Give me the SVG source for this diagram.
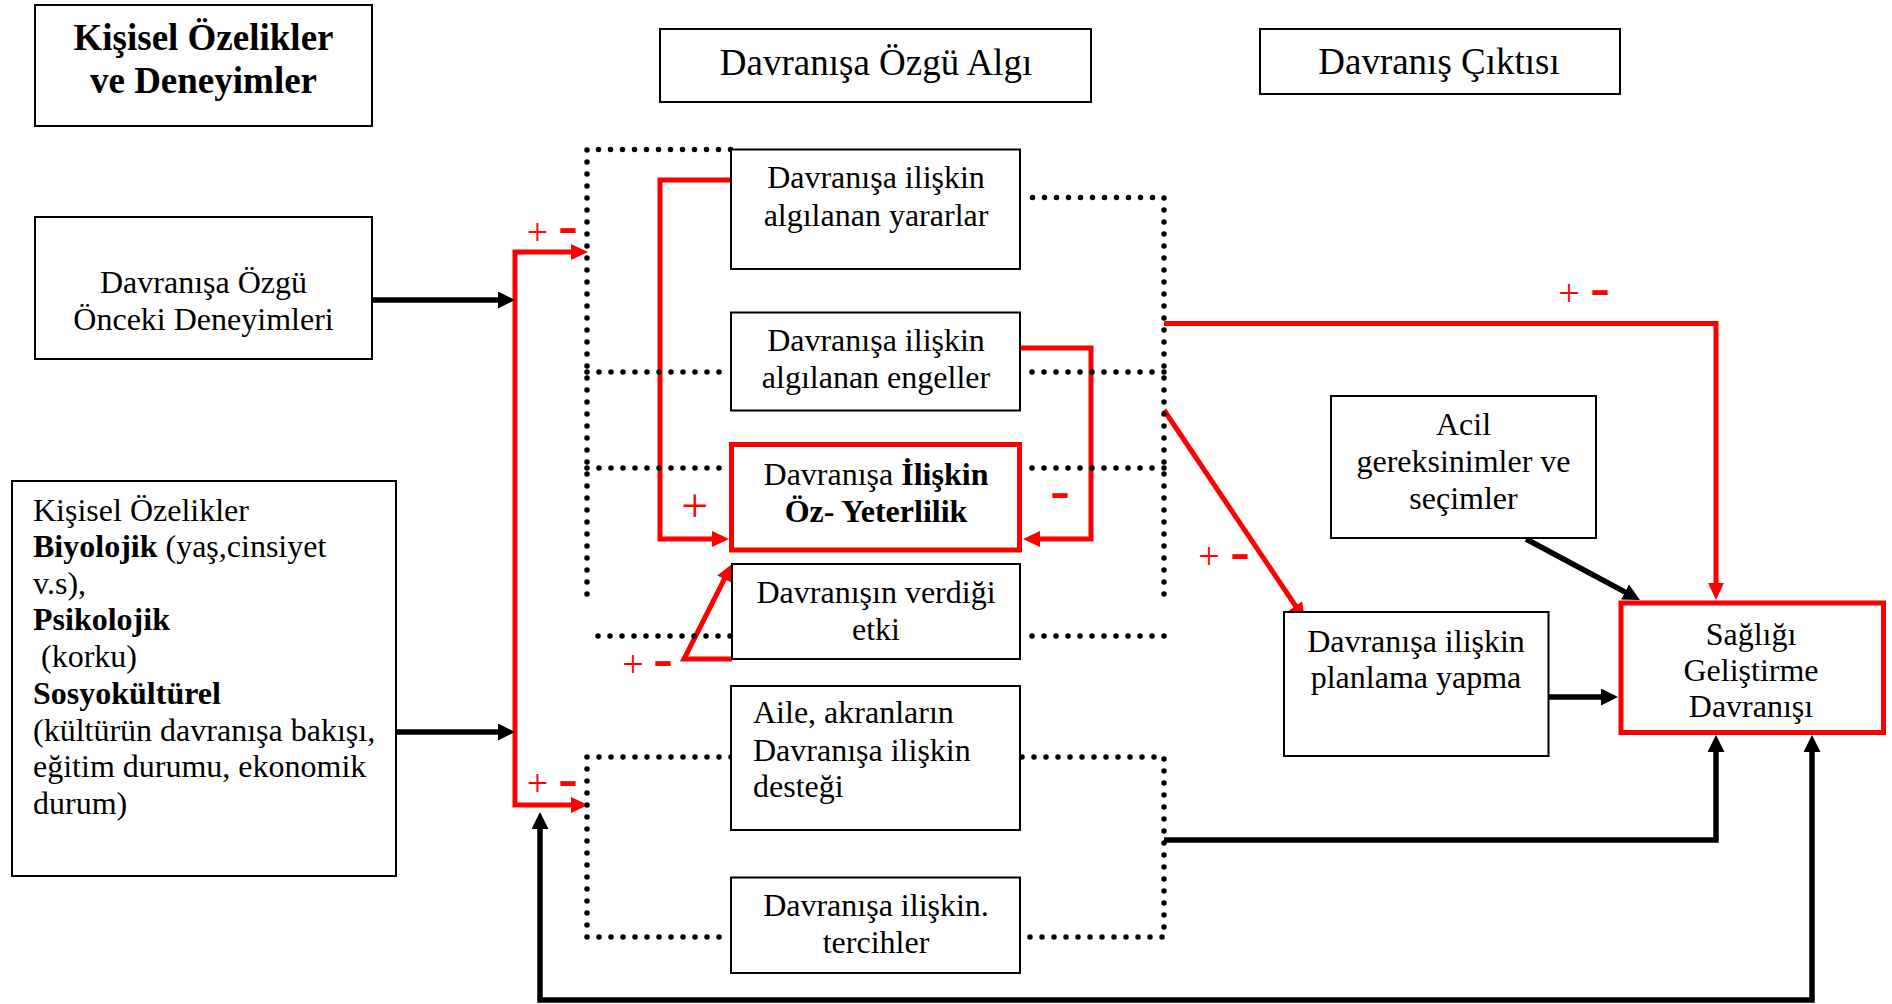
<svg xmlns="http://www.w3.org/2000/svg" width="1892" height="1004" viewBox="0 0 1892 1004">
<style>
  .box{fill:#fff;stroke:#000;stroke-width:2}
  .hot{fill:#fff;stroke:#f00;stroke-width:5}
  .t{font-family:"Liberation Serif","Times New Roman",serif;font-size:32px;fill:#000}
  .c{text-anchor:middle}
  .b{font-weight:bold}
  .head{font-size:37px}
  .dot{fill:none;stroke:#000;stroke-width:5.5;stroke-dasharray:0 12;stroke-linecap:round}
  .red{fill:none;stroke:#f00;stroke-width:5;stroke-linejoin:miter}
  .blk{fill:none;stroke:#000;stroke-width:5.5;stroke-linejoin:miter}
  .plus{font-family:"Liberation Serif",serif;font-size:38px;fill:#f00;text-anchor:middle}
  .minus{font-family:"Liberation Sans",sans-serif;font-weight:bold;font-size:40px;fill:#f00;text-anchor:middle}
</style>
<defs>
  <marker id="ar" markerUnits="userSpaceOnUse" viewBox="0 0 17 16" markerWidth="17" markerHeight="16" refX="5" refY="8" orient="auto-start-reverse">
    <path d="M0,0 L17,8 L0,16 z" fill="#f00"/>
  </marker>
  <marker id="ab" markerUnits="userSpaceOnUse" viewBox="0 0 17 17" markerWidth="17" markerHeight="17" refX="5" refY="8.5" orient="auto-start-reverse">
    <path d="M0,0 L17,8.5 L0,17 z" fill="#000"/>
  </marker>
</defs>

<!-- connectors -->
<g id="connectors">
  <!-- red distribution bus on the left -->
  <path class="red" d="M 576 805 H 515 V 252 H 576" marker-start="url(#ar)" marker-end="url(#ar)"/>
  <!-- benefits / barriers into self-efficacy -->
  <path class="red" d="M 731 180 H 660 V 539 H 717" marker-end="url(#ar)"/>
  <path class="red" d="M 1020 348 H 1091 V 539 H 1035" marker-end="url(#ar)"/>
  <!-- activity-related affect into self-efficacy -->
  <path class="red" d="M 732 659 H 684 L 726.6 574.7" marker-end="url(#ar)"/>
  <!-- perception group to outcome -->
  <path class="red" d="M 1164 323.5 H 1716 V 588" marker-end="url(#ar)"/>
  <path class="red" d="M 1164 410 L 1298.3 610" marker-end="url(#ar)"/>

  <!-- black inputs and outputs -->
  <path class="blk" d="M 372 300 H 503" marker-end="url(#ab)"/>
  <path class="blk" d="M 396 732 H 503" marker-end="url(#ab)"/>
  <path class="blk" d="M 1812 747 V 1000 H 540 V 824" marker-start="url(#ab)" marker-end="url(#ab)"/>
  <path class="blk" d="M 1164 840 H 1716 V 747" marker-end="url(#ab)"/>
  <path class="blk" d="M 1548 697 H 1606" marker-end="url(#ab)"/>
  <path class="blk" d="M 1526 539 L 1629.4 594.3" marker-end="url(#ab)"/>

  <!-- sign labels -->
  <text class="plus" x="537.5" y="244.5">+</text>
  <text class="minus" transform="translate(568 230) scale(1.5 1)" y="10.5">-</text>
  <text class="plus" x="537.5" y="795.5">+</text>
  <text class="minus" transform="translate(568 783) scale(1.5 1)" y="10.5">-</text>
  <text class="plus" x="633" y="676.5">+</text>
  <text class="minus" transform="translate(663 663) scale(1.5 1)" y="10.5">-</text>
  <text class="plus" x="694.7" y="522" style="font-size:48px">+</text>
  <text class="minus" transform="translate(1060 495) scale(1.5 1)" y="10.5">-</text>
  <text class="plus" x="1209" y="568.5">+</text>
  <text class="minus" transform="translate(1240 556) scale(1.5 1)" y="10.5">-</text>
  <text class="plus" x="1569" y="305.5">+</text>
  <text class="minus" transform="translate(1600 292) scale(1.5 1)" y="10.5">-</text>
</g>

<!-- dotted grouping frames -->
<g id="frames">
  <path class="dot" d="M 587 594 V 149.5 H 731"/>
  <path class="dot" d="M 1164 594 V 197.5 H 1028"/>
  <path class="dot" d="M 587 372 H 731"/>
  <path class="dot" d="M 1164 372 H 1028"/>
  <path class="dot" d="M 587 468 H 729"/>
  <path class="dot" d="M 1164 468 H 1028"/>
  <path class="dot" d="M 598 636 H 731"/>
  <path class="dot" d="M 1164 636 H 1028"/>
  <path class="dot" d="M 731 757 H 587 V 937 H 731"/>
  <path class="dot" d="M 1022 757 H 1164 V 937 H 1022"/>
</g>

<g id="title">
  <rect class="box" x="35" y="5" width="337" height="121"/>
  <text class="t c b" x="203.5" y="50" style="font-size:37px">Kişisel Özelikler</text>
  <text class="t c b" x="203.5" y="93" style="font-size:37px">ve Deneyimler</text>
</g>

<g id="head-perception">
  <rect class="box" x="660" y="29" width="431" height="73"/>
  <text class="t c head" x="876" y="75">Davranışa Özgü Algı</text>
</g>

<g id="head-outcome">
  <rect class="box" x="1260" y="29" width="360" height="65"/>
  <text class="t c head" x="1439" y="74">Davranış Çıktısı</text>
</g>

<g id="prior-experience">
  <rect class="box" x="35" y="217" width="337" height="142"/>
  <text class="t c" x="203.5" y="293">Davranışa Özgü</text>
  <text class="t c" x="203.5" y="330">Önceki Deneyimleri</text>
</g>

<g id="personal-factors">
  <rect class="box" x="12" y="481" width="384" height="395"/>
  <text class="t" x="33" y="520.7">Kişisel Özelikler</text>
  <text class="t" x="33" y="557"><tspan class="b">Biyolojik</tspan> (yaş,cinsiyet</text>
  <text class="t" x="33" y="593.6">v.s),</text>
  <text class="t b" x="33" y="630.3">Psikolojik</text>
  <text class="t" x="33" y="667" xml:space="preserve"> (korku)</text>
  <text class="t b" x="33" y="704">Sosyokültürel</text>
  <text class="t" x="33" y="740.5">(kültürün davranışa bakışı,</text>
  <text class="t" x="33" y="777.2">eğitim durumu, ekonomik</text>
  <text class="t" x="33" y="814">durum)</text>
</g>

<g id="benefits">
  <rect class="box" x="731" y="149.5" width="289" height="119.5"/>
  <text class="t c" x="876" y="188">Davranışa ilişkin</text>
  <text class="t c" x="876" y="226">algılanan yararlar</text>
</g>

<g id="barriers">
  <rect class="box" x="731" y="312.5" width="289" height="98"/>
  <text class="t c" x="876" y="350.5">Davranışa ilişkin</text>
  <text class="t c" x="876" y="388">algılanan engeller</text>
</g>

<g id="self-efficacy">
  <rect class="hot" x="731.5" y="444.5" width="288" height="105.5"/>
  <text class="t c" x="876" y="485">Davranışa <tspan class="b">İlişkin</tspan></text>
  <text class="t c b" x="876" y="521.5">Öz- Yeterlilik</text>
</g>

<g id="affect">
  <rect class="box" x="732" y="564" width="288" height="95"/>
  <text class="t c" x="876" y="603">Davranışın verdiği</text>
  <text class="t c" x="876" y="640">etki</text>
</g>

<g id="support">
  <rect class="box" x="731" y="686" width="289" height="144"/>
  <text class="t" x="753" y="723">Aile, akranların</text>
  <text class="t" x="753" y="760.5">Davranışa ilişkin</text>
  <text class="t" x="753" y="796.5">desteği</text>
</g>

<g id="preferences">
  <rect class="box" x="731" y="877.5" width="289" height="95.5"/>
  <text class="t c" x="876" y="916">Davranışa ilişkin.</text>
  <text class="t c" x="876" y="953">tercihler</text>
</g>

<g id="urgent-needs">
  <rect class="box" x="1331" y="396" width="265" height="142"/>
  <text class="t c" x="1463.5" y="435">Acil</text>
  <text class="t c" x="1463.5" y="472">gereksinimler ve</text>
  <text class="t c" x="1463.5" y="509">seçimler</text>
</g>

<g id="planning">
  <rect class="box" x="1284" y="612" width="264.5" height="144"/>
  <text class="t c" x="1416" y="651.5">Davranışa ilişkin</text>
  <text class="t c" x="1416" y="688">planlama yapma</text>
</g>

<g id="health-behaviour">
  <rect class="hot" x="1621" y="603" width="262.5" height="129.5"/>
  <text class="t c" x="1751" y="645">Sağlığı</text>
  <text class="t c" x="1751" y="681">Geliştirme</text>
  <text class="t c" x="1751" y="717">Davranışı</text>
</g>
</svg>
